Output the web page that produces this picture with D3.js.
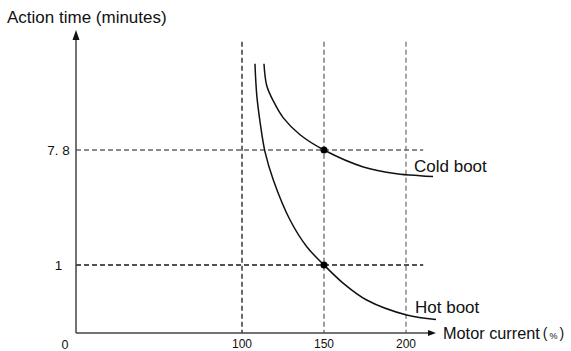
<!DOCTYPE html>
<html>
<head>
<meta charset="utf-8">
<script src="https://cdn.jsdelivr.net/npm/d3@7"></script>
<style>
  html, body { margin: 0; padding: 0; background: #fff; }
  svg { display: block; }
  text { font-family: "Liberation Sans", Arial, Helvetica, sans-serif; fill: #111; }
</style>
</head>
<body>
<svg id="chart" width="571" height="351"></svg>
<script>
// ---- data ----
const xTicks = [100, 150, 200];
const xTickLabels = ["100", "150", "200"];
const yTicks = [1, 7.8];
const yTickLabels = ["1", "7. 8"];
const seriesNames = ["Cold boot", "Hot boot"];
const coldCurrent = [113.4, 115.1, 119.1, 125.2, 135.4, 150, 174, 194.3, 208.5, 216.5];
const coldTime    = [12.9, 11.6, 10.7, 9.7, 8.7, 7.8, 6.8, 6.4, 6.28, 6.23];
const hotCurrent  = [107.9, 109, 111, 114, 119.1, 129.3, 139.5, 150, 161.8, 176, 200.4, 218.3];
const hotTime     = [12.9, 11.05, 9.47, 7.7, 6.03, 3.66, 2.08, 1, 0.73, 0.485, 0.265, 0.2];
const markedPoints = [[150, 7.8], [150, 1]];
const xTitle = "Motor current";
const xUnitParts = ["(", "%", ")"];
const yTitle = "Action time (minutes)";

// ---- scales (schematic, piecewise linear) ----
const x = d3.scaleLinear().domain([0, 100, 200, 218.3]).range([76, 242, 406, 436]);
const y = d3.scaleLinear().domain([0, 1, 7.8, 14.9]).range([333, 265, 150, 30]);

const svg = d3.select("#chart");

// guide lines
const dash = "5,3";
const vColors = { 100: "#1a1a1a", 150: "#666", 200: "#777" };
svg.append("g").selectAll("line").data(xTicks).join("line")
  .attr("x1", d => x(d)).attr("x2", d => x(d))
  .attr("y1", y(14.2)).attr("y2", y(0))
  .attr("stroke", d => vColors[d]).attr("stroke-width", 1.3)
  .attr("stroke-dasharray", dash);

const hColors = { 1: "#1a1a1a", 7.8: "#666" };
svg.append("g").selectAll("line").data(yTicks).join("line")
  .attr("x1", x(0)).attr("x2", x(210.5))
  .attr("y1", d => y(d)).attr("y2", d => y(d))
  .attr("stroke", d => hColors[d]).attr("stroke-width", 1.3)
  .attr("stroke-dasharray", dash);

// axes
svg.append("line").attr("x1", x(0)).attr("x2", x(0))
  .attr("y1", y(0)).attr("y2", y(14.9) + 8)
  .attr("stroke", "#444").attr("stroke-width", 1.5);
svg.append("line").attr("x1", x(0)).attr("x2", x(218.3) - 6)
  .attr("y1", y(0)).attr("y2", y(0))
  .attr("stroke", "#444").attr("stroke-width", 1.5);
// arrow heads
const tx = x(0), ty = y(14.9);
svg.append("path").attr("d", `M${tx},${ty} L${tx - 3.5},${ty + 10} L${tx + 3.5},${ty + 10} Z`).attr("fill", "#111");
const ax = x(218.3), ay = y(0);
svg.append("path").attr("d", `M${ax},${ay} L${ax - 8},${ay - 3} L${ax - 8},${ay + 3} Z`).attr("fill", "#111");

// curves
const line = d3.line().x(d => x(d[0])).y(d => y(d[1])).curve(d3.curveCatmullRom.alpha(0.5));
const cold = coldCurrent.map((c, i) => [c, coldTime[i]]);
const hot = hotCurrent.map((c, i) => [c, hotTime[i]]);
svg.append("g").selectAll("path").data([cold, hot]).join("path")
  .attr("d", line).attr("fill", "none").attr("stroke", "#111").attr("stroke-width", 1.5);

// points
svg.append("g").selectAll("circle").data(markedPoints).join("circle")
  .attr("cx", d => x(d[0])).attr("cy", d => y(d[1])).attr("r", 3.5).attr("fill", "#000");

// tick labels
svg.append("g").selectAll("text").data(yTicks).join("text")
  .attr("x", 58.5).attr("y", d => y(d) + 5)
  .attr("text-anchor", "middle").attr("font-size", 13.5)
  .text((d, i) => yTickLabels[i]);
svg.append("g").selectAll("text").data(xTicks).join("text")
  .attr("x", d => x(d)).attr("y", 347.5)
  .attr("text-anchor", "middle").attr("font-size", 12)
  .text((d, i) => xTickLabels[i]);
svg.append("text").attr("x", 65).attr("y", 349).attr("text-anchor", "middle")
  .attr("font-size", 12.5).text("0");

// series labels
svg.append("text").attr("x", 414).attr("y", 172).attr("font-size", 17).text(seriesNames[0]);
svg.append("text").attr("x", 415).attr("y", 313).attr("font-size", 17).text(seriesNames[1]);

// axis titles
svg.append("text").attr("x", 7).attr("y", 23).attr("font-size", 17).text(yTitle);
const xt = svg.append("text").attr("x", 443).attr("y", 339).attr("font-size", 16.3);
xt.append("tspan").text(xTitle);
xt.append("tspan").attr("dx", 3).attr("font-size", 14).attr("dy", -1).text(xUnitParts[0]);
xt.append("tspan").attr("dx", 2).attr("font-size", 9).attr("dy", 1).text(xUnitParts[1]);
xt.append("tspan").attr("dx", 2).attr("font-size", 14).attr("dy", -1).text(xUnitParts[2]);
</script>
</body>
</html>
